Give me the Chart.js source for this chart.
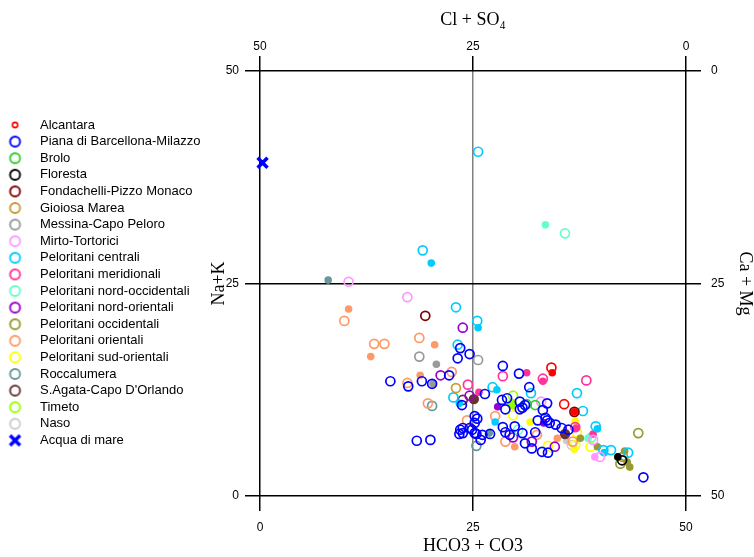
<!DOCTYPE html>
<html>
<head>
<meta charset="utf-8">
<script src="https://cdn.jsdelivr.net/npm/chart.js@4.4.0/dist/chart.umd.min.js"></script>
<style>
  html, body { margin: 0; padding: 0; background: #fff; }
</style>
</head>
<body>
<canvas id="mainCanvas" width="754" height="557"></canvas>
<script>
// Langelier-Ludwig diagram: x = HCO3 + CO3, y = Na + K

const categories = [
  'Alcantara', 'Piana di Barcellona-Milazzo', 'Brolo', 'Floresta',
  'Fondachelli-Pizzo Monaco', 'Gioiosa Marea', 'Messina-Capo Peloro',
  'Mirto-Tortorici', 'Peloritani centrali', 'Peloritani meridionali',
  'Peloritani nord-occidentali', 'Peloritani nord-orientali',
  'Peloritani occidentali', 'Peloritani orientali', 'Peloritani sud-orientali',
  'Roccalumera', "S.Agata-Capo D'Orlando", 'Timeto', 'Naso', 'Acqua di mare'
];

const axisTicks = [0, 25, 50];

// [HCO3+CO3, Na+K]
const alcantaraOpen = [[34.2, 15.1], [35.7, 10.8]];
const alcantaraFilled = [[34.3, 14.5], [36.9, 9.9]];
const pianaOpen = [
  [15.3, 13.5], [17.4, 12.9], [19.0, 13.5], [20.2, 13.2], [22.2, 14.2], [23.5, 17.4],
  [23.2, 16.2], [24.6, 16.7], [23.7, 10.7], [18.4, 6.5], [20.0, 6.6], [25.2, 9.4],
  [25.5, 9.1], [23.8, 8.0], [23.4, 7.3], [24.6, 8.0], [25.4, 7.3], [28.5, 15.3],
  [30.4, 14.4], [31.6, 12.8], [26.4, 12.0], [29.0, 11.5], [30.8, 10.4], [30.5, 11.1],
  [33.7, 10.9], [28.5, 8.1], [25.2, 7.4], [25.9, 6.6], [23.8, 7.4], [31.1, 6.2],
  [31.9, 5.6], [33.1, 5.2], [33.8, 5.1], [34.0, 8.6], [34.7, 8.4], [35.4, 8.0],
  [36.2, 7.8], [45.0, 2.2], [27.0, 7.3], [28.8, 7.5], [29.9, 8.2], [32.6, 8.9],
  [33.5, 9.2], [28.4, 11.3], [28.8, 10.2], [30.5, 10.2], [31.1, 10.7], [33.2, 10.1],
  [33.7, 8.9], [25.2, 8.6], [23.5, 7.8], [24.9, 7.8], [26.1, 7.2], [29.3, 7.2],
  [30.8, 7.4], [32.3, 7.5]
];
const broloOpen = [[31.3, 10.8], [32.3, 10.7]];
const florestaOpen = [[42.5, 4.2]];
const florestaFilled = [[42.0, 4.6]];
const fondachelliOpen = [[19.4, 21.2], [36.9, 9.9]];
const gioiosaOpen = [[23.0, 12.7]];
const messinaOpen = [[18.7, 16.4], [25.6, 16.0]];
const messinaFilled = [[20.7, 15.5], [20.3, 13.2]];
const mirtoOpen = [[10.4, 25.2], [17.3, 23.4], [33.0, 11.1], [39.9, 4.6], [39.1, 6.6]];
const mirtoFilled = [[39.3, 4.6]];
const centraliOpen = [
  [25.6, 40.5], [19.1, 28.9], [23.0, 22.2], [25.5, 20.6], [23.2, 17.8], [22.7, 11.6],
  [27.3, 12.8], [31.8, 12.1], [37.2, 12.1], [37.9, 10.0], [39.4, 8.2], [40.3, 5.4],
  [41.2, 5.4], [43.2, 5.1]
];
const centraliFilled = [[20.1, 27.4], [25.6, 19.8], [27.8, 12.5], [23.4, 10.9], [27.6, 8.7], [39.6, 7.9], [40.4, 5.1]];
const meridionaliOpen = [[28.5, 14.1], [33.2, 13.8], [38.3, 13.6], [24.4, 13.1], [37.0, 8.1]];
const meridionaliFilled = [[31.3, 14.5], [33.2, 13.5], [25.7, 12.2], [39.1, 7.3], [37.1, 8.0]];
const nordOccOpen = [[35.8, 30.9], [30.3, 7.8], [38.9, 6.9]];
const nordOccFilled = [[33.5, 31.9], [38.5, 6.8]];
const nordOrOpen = [[23.8, 19.8], [21.2, 14.2], [24.6, 11.8], [29.7, 6.9], [31.9, 6.4], [34.6, 5.8]];
const nordOrFilled = [[27.9, 10.5], [33.3, 8.6]];
const occidentaliOpen = [[44.4, 7.4], [42.3, 3.8], [42.6, 4.6]];
const occidentaliFilled = [[42.8, 5.3], [43.1, 4.0], [43.4, 3.4], [37.6, 6.8], [39.6, 5.8]];
const orientaliOpen = [
  [9.9, 20.6], [13.4, 17.9], [14.6, 17.9], [18.7, 18.6], [22.5, 14.6], [17.3, 13.3],
  [19.7, 10.9], [24.3, 8.9], [27.6, 9.4], [28.8, 6.4], [32.5, 7.2], [36.7, 6.4]
];
const orientaliFilled = [[10.4, 22.0], [13.0, 16.4], [20.5, 17.8], [18.8, 14.2], [29.9, 5.8], [34.9, 6.8]];
const sudOrOpen = [[29.7, 9.5], [37.2, 7.5], [33.8, 5.9], [38.8, 5.8], [37.0, 6.0]];
const sudOrFilled = [[31.7, 8.7], [37.0, 8.8], [36.9, 5.5]];
const roccalumeraOpen = [[20.2, 10.6], [25.4, 5.9]];
const roccalumeraFilled = [[8.0, 25.4], [26.9, 7.4]];
const sagataOpen = [[23.8, 11.3]];
const sagataFilled = [[25.1, 11.4], [35.8, 7.3]];
const timetoOpen = [[29.7, 11.8]];
const timetoFilled = [[29.6, 10.8]];
const nasoOpen = [[36.6, 6.0]];
const nasoFilled = [[36.0, 6.5]];
const acquaDiMare = [[0.3, 39.2]];

const openSeries = [
  alcantaraOpen, pianaOpen, broloOpen, florestaOpen, fondachelliOpen, gioiosaOpen,
  messinaOpen, mirtoOpen, centraliOpen, meridionaliOpen, nordOccOpen, nordOrOpen,
  occidentaliOpen, orientaliOpen, sudOrOpen, roccalumeraOpen, sagataOpen, timetoOpen,
  nasoOpen, acquaDiMare
];
const filledSeries = [
  alcantaraFilled, [], [], florestaFilled, [], [], messinaFilled, mirtoFilled,
  centraliFilled, meridionaliFilled, nordOccFilled, nordOrFilled, occidentaliFilled,
  orientaliFilled, sudOrFilled, roccalumeraFilled, sagataFilled, timetoFilled,
  nasoFilled, []
];

const seriesColors = [
  '#ff0000', '#0000ff', '#33cc33', '#000000', '#800000', '#cc9933', '#999999',
  '#ff99ff', '#00ccff', '#ff3399', '#66ffcc', '#9900cc', '#999933', '#ff9966',
  '#ffff00', '#669999', '#663333', '#99ff00', '#cccccc', '#0000ff'
];

document.addEventListener('DOMContentLoaded', () => {
  const ctx = document.getElementById('mainCanvas').getContext('2d');
  const serif = '"Liberation Serif", "Times New Roman", serif';
  const sans = '"Liberation Sans", Arial, sans-serif';

  const toXY = arr => arr.map(p => ({ x: p[0], y: p[1] }));

  // legend marker drawn slightly left of its box centre
  function makeIcon(color, kind) {
    const c = document.createElement('canvas');
    c.width = 30;
    c.height = 14;
    const g = c.getContext('2d');
    const cx = 11.5, cy = 7;
    g.strokeStyle = color;
    g.beginPath();
    if (kind === 'cross') {
      g.lineWidth = 3.5;
      g.moveTo(cx - 5, cy - 5); g.lineTo(cx + 5, cy + 5);
      g.moveTo(cx + 5, cy - 5); g.lineTo(cx - 5, cy + 5);
    } else {
      g.lineWidth = kind === 'small' ? 1.6 : 1.9;
      g.arc(cx, cy, kind === 'small' ? 2.6 : 5, 0, Math.PI * 2);
    }
    g.stroke();
    return c;
  }

  const legendIcons = categories.map((name, i) => {
    if (i === 0) return makeIcon(seriesColors[i], 'small');
    if (i === categories.length - 1) return makeIcon(seriesColors[i], 'cross');
    return makeIcon(seriesColors[i], 'ring');
  });

  const datasets = [];
  categories.forEach((name, i) => {
    const isSea = i === categories.length - 1;
    datasets.push({
      label: name,
      data: toXY(openSeries[i]),
      pointStyle: isSea ? 'crossRot' : 'circle',
      pointRadius: isSea ? 7 : 4.5,
      borderWidth: isSea ? 3.5 : 1.7,
      borderColor: seriesColors[i],
      backgroundColor: 'rgba(0,0,0,0)',
      clip: false
    });
    if (filledSeries[i].length) {
      const big = name === 'Timeto' || name === "S.Agata-Capo D'Orlando";
      datasets.push({
        label: name,
        data: toXY(filledSeries[i]),
        pointStyle: 'circle',
        pointRadius: big ? 5.2 : 3.8,
        borderWidth: 0,
        borderColor: seriesColors[i],
        backgroundColor: seriesColors[i],
        clip: false
      });
    }
  });

  const tickFont = { family: sans, size: 12 };
  const titleFont = { family: serif, size: 18 };
  const edgeGrid = {
    drawOnChartArea: false, color: '#000', lineWidth: 1.5,
    tickLength: 15, tickColor: '#000', tickWidth: 1.5
  };
  const tickValues = scale => { scale.ticks = axisTicks.map(v => ({ value: v })); };

  const config = {
    type: 'scatter',
    data: { datasets },
    options: {
      responsive: false,
      animation: false,
      events: [],
      layout: { padding: { top: 8.4 } },
      plugins: {
        tooltip: { enabled: false },
        legend: {
          position: 'left',
          align: 'center',
          maxWidth: 320,
          labels: {
            usePointStyle: true,
            pointStyleWidth: 29.9,
            padding: 3.6,
            color: '#000',
            font: { family: sans, size: 13 },
            generateLabels: () => categories.map((name, i) => ({
              text: name,
              pointStyle: legendIcons[i],
              fillStyle: 'rgba(0,0,0,0)',
              strokeStyle: 'rgba(0,0,0,0)',
              lineWidth: 0,
              hidden: false,
              fontColor: '#000',
              datasetIndex: i
            }))
          }
        }
      },
      scales: {
        x: {
          type: 'linear', position: 'bottom', min: 0, max: 50,
          afterBuildTicks: tickValues,
          ticks: { padding: 9, color: '#000', font: tickFont },
          grid: {
            color: c => (c.tick && c.tick.value === 25 ? '#808080' : '#000'),
            lineWidth: 1.5, tickLength: 15, tickColor: '#000', tickWidth: 1.5
          },
          border: { display: false },
          title: { display: true, text: 'HCO3 + CO3', color: '#000', font: titleFont, padding: { top: 0, bottom: 0 } },
          afterFit: s => { s.height = 61; }
        },
        x2: {
          type: 'linear', position: 'top', reverse: true, min: 0, max: 50,
          afterBuildTicks: tickValues,
          ticks: { padding: 2, color: '#000', font: tickFont },
          grid: edgeGrid,
          border: { display: false },
          title: { display: true, text: 'Cl + SO₄', color: '#000', font: titleFont, padding: { top: 1, bottom: 0 } },
          afterFit: s => { s.height = 62.6; }
        },
        y: {
          type: 'linear', position: 'left', min: 0, max: 50,
          afterBuildTicks: tickValues,
          ticks: { padding: 6, color: '#000', font: tickFont },
          grid: { color: '#000', lineWidth: 1.5, tickLength: 15, tickColor: '#000', tickWidth: 1.5 },
          border: { display: false },
          title: { display: true, text: 'Na+K', color: '#000', font: { family: serif, size: 18, lineHeight: 1.0 }, padding: { top: 0, bottom: 0 } },
          afterFit: s => { s.width = 260 - s.chart.legend.width; }
        },
        y2: {
          type: 'linear', position: 'right', reverse: true, min: 0, max: 50,
          afterBuildTicks: tickValues,
          ticks: { padding: 10, color: '#000', font: tickFont },
          grid: edgeGrid,
          border: { display: false },
          title: { display: true, text: 'Ca + Mg', color: '#000', font: { family: serif, size: 18, lineHeight: 1.0 }, padding: { top: 0, bottom: 0 } },
          afterFit: s => { s.width = 68; }
        }
      }
    }
  };

  new Chart(ctx, config);
});
</script>
</body>
</html>
